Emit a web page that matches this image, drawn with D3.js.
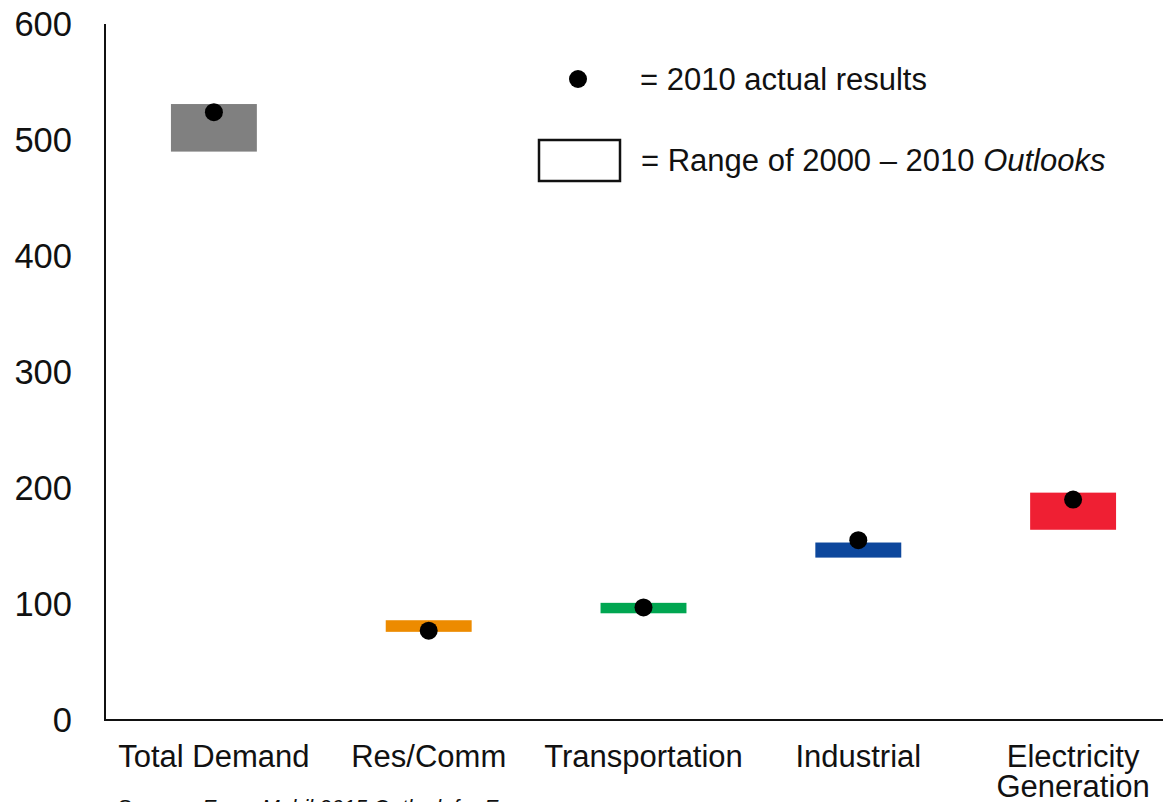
<!DOCTYPE html>
<html>
<head>
<meta charset="utf-8">
<script src="https://cdn.jsdelivr.net/npm/d3@7"></script>
<style>
  html, body { margin: 0; padding: 0; background: #fff; }
  svg { display: block; font-family: "Liberation Sans", Arial, sans-serif; }
</style>
</head>
<body>
<svg id="chart" width="1163" height="802"></svg>
<script>
// Energy demand by sector: range of 2000–2010 Outlooks vs. 2010 actual
const categories = ["Total Demand", "Res/Comm", "Transportation", "Industrial", "Electricity Generation"];
const rangeLow   = [490, 76, 92, 140, 164];
const rangeHigh  = [531, 86, 101, 153, 196];
const actual2010 = [524, 77, 97, 155, 190];
const colors     = ["#808080", "#ED8B00", "#00A651", "#0D479C", "#EF1F33"];
const yTicks     = [0, 100, 200, 300, 400, 500, 600];

const svg = d3.select("#chart");
const fontSize = 31;
const tickFontSize = 34.5;

const x = d3.scaleBand()
  .domain(categories)
  .range([106.5, 1180.5])
  .paddingInner(0.6)
  .paddingOuter(0.3);

const y = d3.scaleLinear().domain([0, 600]).range([720, 24]);

// Range bars
svg.append("g").selectAll("rect")
  .data(categories)
  .join("rect")
  .attr("x", d => x(d))
  .attr("width", x.bandwidth())
  .attr("y", (d, i) => y(rangeHigh[i]))
  .attr("height", (d, i) => y(rangeLow[i]) - y(rangeHigh[i]))
  .attr("fill", (d, i) => colors[i]);

// 2010 actual points
svg.append("g").selectAll("circle")
  .data(categories)
  .join("circle")
  .attr("cx", d => x(d) + x.bandwidth() / 2)
  .attr("cy", (d, i) => y(actual2010[i]))
  .attr("r", 9)
  .attr("fill", "#000");

// Y axis: labels only, no tick marks
const yAxis = d3.axisLeft(y).tickValues(yTicks).tickSize(0).tickPadding(33);
const yg = svg.append("g").attr("transform", "translate(105,0)").call(yAxis);
yg.select(".domain").remove();
yg.selectAll("text")
  .attr("font-size", tickFontSize)
  .attr("font-family", "Liberation Sans, Arial, sans-serif")
  .attr("fill", "#111");

// Axis lines
svg.append("line").attr("x1", 105).attr("x2", 105).attr("y1", y(600)).attr("y2", y(0))
  .attr("stroke", "#111").attr("stroke-width", 2);
svg.append("line").attr("x1", 104).attr("x2", 1163).attr("y1", y(0)).attr("y2", y(0))
  .attr("stroke", "#111").attr("stroke-width", 2);

// Category labels (last one wrapped onto two lines)
const xl = svg.append("g");
categories.forEach((c, i) => {
  const lines = c === "Electricity Generation" ? ["Electricity", "Generation"] : [c];
  const cx = x(c) + x.bandwidth() / 2;
  const t = xl.append("text")
    .attr("x", cx)
    .attr("y", 767)
    .attr("text-anchor", "middle")
    .attr("font-size", fontSize)
    .attr("fill", "#111");
  lines.forEach((l, k) => {
    t.append("tspan").attr("x", cx).attr("dy", k === 0 ? 0 : 30).text(l);
  });
});

// Legend
const lg = svg.append("g");
lg.append("circle").attr("cx", 578).attr("cy", 79).attr("r", 9).attr("fill", "#000");
lg.append("text").attr("x", 640).attr("y", 90).attr("font-size", fontSize).attr("fill", "#111")
  .text("= 2010 actual results");
lg.append("rect").attr("x", 539).attr("y", 140).attr("width", 81).attr("height", 41)
  .attr("fill", "#fff").attr("stroke", "#111").attr("stroke-width", 2.5);
const t2 = lg.append("text").attr("x", 641).attr("y", 171).attr("font-size", fontSize).attr("fill", "#111");
t2.append("tspan").text("= Range of 2000 \u2013 2010 ");
t2.append("tspan").attr("font-style", "italic").text("Outlooks");

// Source note (bottom, partly off-canvas)
const src = svg.append("text").attr("x", 118).attr("y", 815).attr("font-size", 21.5).attr("fill", "#111");
src.append("tspan").text("Source:");
src.append("tspan").attr("x", 202).attr("font-style", "italic").text("ExxonMobil 2015 Outlook for Energy");
</script>
</body>
</html>
